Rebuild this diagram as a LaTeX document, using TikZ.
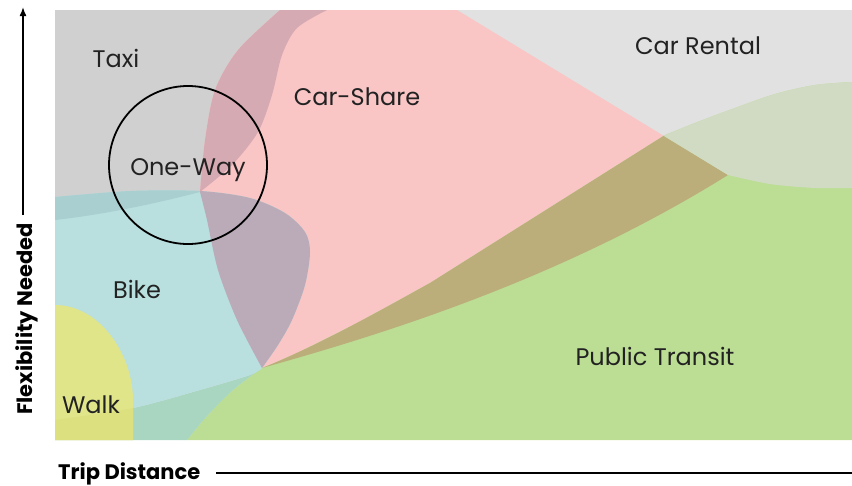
\documentclass[tikz,border=0pt]{standalone}
\usepackage{fontspec}
\setmainfont{Poppins}
\usetikzlibrary{arrows.meta}
\definecolor{cRental}{HTML}{E1E1E1}
\definecolor{cTaxi}{HTML}{D0D0D0}
\definecolor{cTaxiShare}{HTML}{D6AAB2}
\definecolor{cShare}{HTML}{F9C5C5}
\definecolor{cBrown}{HTML}{BBAE7B}
\definecolor{cPale}{HTML}{D1DBC3}
\definecolor{cGreen}{HTML}{BCDE94}
\definecolor{cBike}{HTML}{B9DFDF}
\definecolor{cBikeTaxi}{HTML}{A9CFD0}
\definecolor{cBikeShare}{HTML}{BBABB8}
\definecolor{cTealGreen}{HTML}{A9D6C0}
\definecolor{cWalk}{HTML}{E0E58A}
\definecolor{cWalkLow}{HTML}{DDE07E}
\definecolor{cInk}{HTML}{222222}
\newcommand{\pathTaxi}{(55,10) -- (327,10) -- plot[smooth] coordinates {(327,10) (297,28) (282,55) (272,95) (258,132) (232,165) (200,192)} .. controls (150,205) and (100,215) .. (55,220) -- cycle}
\newcommand{\pathShare}{(280,10) -- (457,10) -- (728,175) .. controls (560,280) and (380,335) .. (262,368) -- plot[smooth] coordinates {(262,368) (237,320) (218,270) (207,220) (200,192)} -- plot[smooth] coordinates {(200,192) (205,140) (215,90) (238,50) (280,10)} -- cycle}
\newcommand{\pathTransit}{(262,368) .. controls (320,345) and (390,305) .. (430,283) -- (665,135) -- plot[smooth] coordinates {(665,135) (700,121) (735,108) (775,94) (815,85) (852,82)} -- (852,440) -- (187,440) -- plot[smooth] coordinates {(187,440) (207,416) (233,390) (262,368)} -- cycle}
\newcommand{\pathRentalLow}{(457,10) -- (728,175) -- plot[smooth] coordinates {(728,175) (770,184) (815,188) (852,188)} -- (852,10) -- cycle}
\newcommand{\pathBike}{(55,197) -- plot[smooth] coordinates {(55,197) (130,191) (200,191) (250,198) (285,213) (305,232) (310,252) (305,285) (292,320) (278,345) (262,368)} -- plot[smooth] coordinates {(262,368) (250,375) (200,390) (133,408) (55,420)} -- cycle}
\newcommand{\pathBelowBike}{plot[smooth] coordinates {(262,368) (250,375) (200,390) (133,408) (55,420)} -- (55,440) -- (187,440) -- plot[smooth] coordinates {(187,440) (207,416) (233,390) (262,368)} -- cycle}
\newcommand{\pathWalk}{(55,305) .. controls (100,305) and (133,355) .. (133,400) -- (133,440) -- (55,440) -- cycle}
\begin{document}
\begin{tikzpicture}[x=1pt,y=-1pt,
  lbl/.style={text=cInk, font=\fontsize{24}{24}\selectfont, inner sep=0pt},
  axl/.style={text=black, font=\fontsize{21}{21}\selectfont\bfseries, inner sep=0pt},
  axline/.style={line width=1.6pt, black}]
\useasboundingbox (0,0) rectangle (852,485);
% car rental background
\fill[cRental] (55,10) rectangle (852,440);
% taxi
\fill[cTaxi] \pathTaxi;
% car share
\fill[cShare] \pathShare;
\begin{scope}
  \clip \pathTaxi;
  \fill[cTaxiShare] \pathShare;
\end{scope}
% public transit
\fill[cGreen] \pathTransit;
\begin{scope}
  \clip \pathShare;
  \fill[cBrown] \pathTransit;
\end{scope}
\begin{scope}
  \clip \pathTransit;
  \fill[cPale] \pathRentalLow;
\end{scope}
% region below bike
\fill[cTealGreen] \pathBelowBike;
% bike
\fill[cBike] \pathBike;
\begin{scope}
  \clip \pathBike;
  \fill[cBikeTaxi] \pathTaxi;
  \fill[cBikeShare] \pathShare;
\end{scope}
% walk
\fill[cWalk] \pathWalk;
\begin{scope}
  \clip \pathWalk;
  \fill[cWalkLow] \pathBelowBike;
\end{scope}
% one-way circle
\draw[line width=1.8pt, black] (188,165) circle (79pt);
% labels
\node[lbl, anchor=base] (taxi) at (116,67) {Taxi};
\node[lbl, anchor=base] (share) at (357,105) {Car-Share};
\node[lbl, anchor=base] (oneway) at (188,175) {One-Way};
\node[lbl, anchor=base] (rental) at (698,54) {Car Rental};
\node[lbl, anchor=base] (bike) at (137,298) {Bike};
\node[lbl, anchor=base] (walk) at (91,413) {Walk};
\node[lbl, anchor=base] (transit) at (655,365) {Public Transit};
% axes
\node[axl, rotate=90, anchor=base] (ylab) at (32,319) {Flexibility Needed};
\node[axl, anchor=base west] (xlab) at (58,479) {Trip Distance};
\coordinate (ybot) at (23,215);
\coordinate (ytop) at (23,7);
\draw[axline, -{Latex[length=9pt,width=7pt]}] (ybot) -- (ytop);
\coordinate (xend) at (852,473);
\coordinate (xstart) at (216,473);
\draw[axline] (xstart) -- (xend);
\end{tikzpicture}
\end{document}
